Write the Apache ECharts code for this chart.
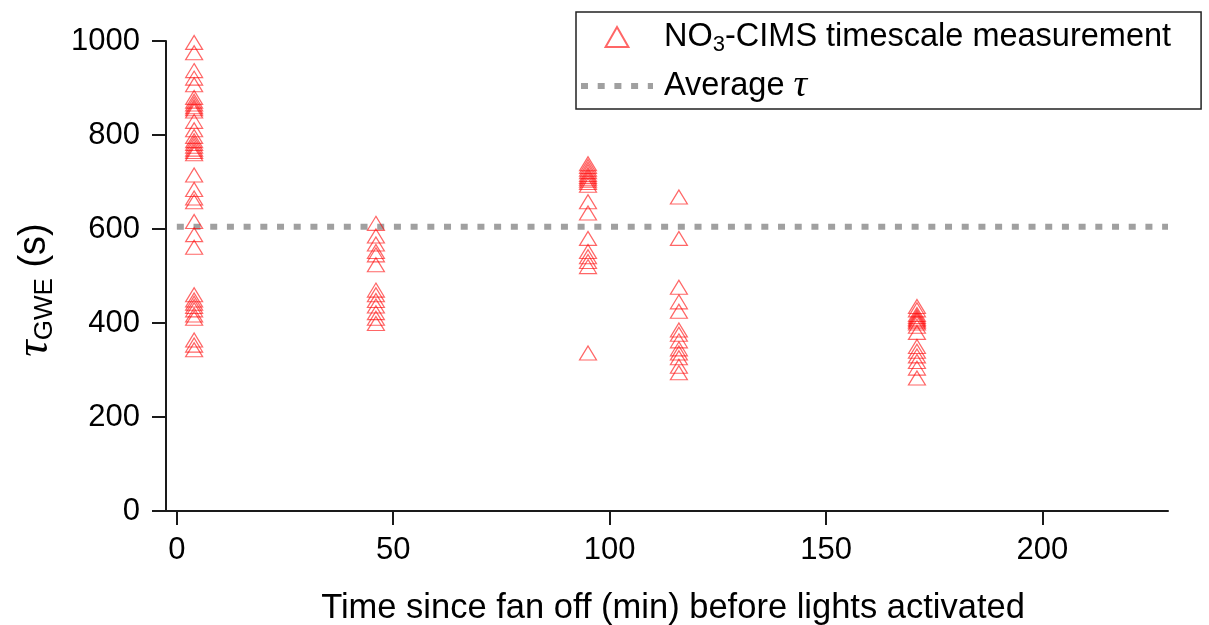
<!DOCTYPE html>
<html><head><meta charset="utf-8">
<script src="https://cdn.jsdelivr.net/npm/echarts@6/dist/echarts.min.js"></script>
<style>html,body{margin:0;padding:0;background:#fff}#c{width:1209px;height:625px}</style>
</head><body><div id="c"></div>
<script>
// ---- data ----
const xTicks = [0, 50, 100, 150, 200];
const yTicks = [0, 200, 400, 600, 800, 1000];
const fanOffTimes = [4, 46, 95, 116, 171];
const tauAt4 = [997, 975, 937, 921, 907, 880, 872, 866, 860, 856, 851, 829, 811, 797, 788, 782, 776, 770, 765, 760, 715, 684, 666, 658, 616, 588, 561, 460, 449, 442, 435, 428, 417, 410, 364, 353, 343];
const tauAt46 = [612, 585, 568, 552, 545, 524, 470, 460, 448, 436, 422, 410, 399];
const tauAt95 = [739, 733, 727, 722, 716, 712, 708, 704, 699, 693, 658, 634, 580, 552, 541, 531, 520, 336];
const tauAt116 = [668, 580, 476, 445, 425, 385, 376, 362, 345, 336, 326, 308, 294];
const tauAt171 = [435, 428, 418, 414, 410, 407, 404, 400, 393, 380, 350, 340, 330, 318, 304, 283];
const avgTau = 605;
const avgLineX = [0, 229];

const seriesName1 = 'NO3-CIMS timescale measurement';
const seriesName2 = 'Average \u03C4';

// ---- build ----
const groups = [tauAt4, tauAt46, tauAt95, tauAt116, tauAt171];
const scatterData = [];
groups.forEach((arr, i) => arr.forEach(v => scatterData.push([fanOffTimes[i], v])));
const avgData = avgLineX.map(x => [x, avgTau]);

const FONT = 'Liberation Sans, Arial, sans-serif';
const TRI = 'path://M8,0L16,14L0,14Z';
const axisColor = '#1a1a1a';
const avgLineStyle = {color: '#a0a0a0', width: 6, type: [7, 9.7]};

const chart = echarts.init(document.getElementById('c'), null, {renderer: 'canvas'});
chart.setOption({
  animation: false,
  backgroundColor: '#fff',
  grid: {left: 166, right: 41, top: 41, bottom: 114, containLabel: false, outerBoundsMode: 'none'},
  xAxis: {
    type: 'value', min: -2.5, max: 229,
    axisLine: {show: true, onZero: false, lineStyle: {color: axisColor, width: 2}},
    axisTick: {show: true, inside: false, length: 14, customValues: xTicks, lineStyle: {color: axisColor, width: 2}},
    axisLabel: {customValues: xTicks, margin: 24, fontSize: 31, color: '#000', fontFamily: FONT},
    splitLine: {show: false},
    name: 'Time since fan off (min) before lights activated',
    nameLocation: 'middle', nameGap: 80,
    nameTextStyle: {fontSize: 34.5, color: '#000', fontFamily: FONT, padding: [0, 0, 0, 12]}
  },
  yAxis: {
    type: 'value', min: 0, max: 1000, interval: 200,
    axisLine: {show: true, onZero: false, lineStyle: {color: axisColor, width: 2}},
    axisTick: {show: true, inside: false, length: 14, lineStyle: {color: axisColor, width: 2}},
    axisLabel: {margin: 26, fontSize: 31, color: '#000', fontFamily: FONT, formatter: v => String(v)},
    splitLine: {show: false},
    name: '{t|\u03C4}{s|GWE} (s)',
    nameLocation: 'middle', nameGap: 108,
    nameTextStyle: {
      fontSize: 38, color: '#000', fontFamily: FONT, lineHeight: 46, padding: [0, 28, 0, 0],
      rich: {
        t: {fontSize: 46, fontFamily: 'Liberation Serif, serif', fontStyle: 'italic', color: '#000', lineHeight: 46},
        s: {fontSize: 26, fontFamily: FONT, color: '#000', verticalAlign: 'bottom', lineHeight: 26}
      }
    }
  },
  legend: {
    orient: 'vertical', left: 576, top: 12,
    padding: [6, 30, 4, 2], itemGap: 11, itemWidth: 72, itemHeight: 20,
    symbolKeepAspect: true,
    borderColor: '#222', borderWidth: 1.5, backgroundColor: '#fff',
    textStyle: {
      fontFamily: FONT, fontSize: 32.5, color: '#000', lineHeight: 38, padding: [0, 0, 0, 6],
      rich: {
        sub: {fontSize: 22, fontFamily: FONT, color: '#000', verticalAlign: 'bottom', lineHeight: 25},
        tau: {fontSize: 38, fontFamily: 'Liberation Serif, serif', fontStyle: 'italic', color: '#000', lineHeight: 38}
      }
    },
    formatter: function (name) {
      if (name === seriesName1) return 'NO{sub|3}-CIMS timescale measurement';
      return 'Average {tau|\u03C4}';
    },
    data: [
      {name: seriesName1, icon: TRI},
      {name: seriesName2, lineStyle: avgLineStyle, itemStyle: {color: 'rgba(0,0,0,0)', borderWidth: 0, opacity: 0}}
    ]
  },
  series: [
    {
      name: seriesName2, type: 'line', data: avgData, symbol: 'none', z: 1,
      lineStyle: avgLineStyle, itemStyle: {color: '#a0a0a0'},
      emphasis: {disabled: true}, silent: true
    },
    {
      name: seriesName1, type: 'scatter', data: scatterData, z: 3,
      symbol: TRI, symbolSize: [17, 14], symbolKeepAspect: false,
      itemStyle: {color: 'rgba(255,255,255,0)', borderColor: 'rgba(255,0,0,0.75)', borderWidth: 1.2},
      emphasis: {disabled: true}, silent: true
    }
  ]
});
</script></body></html>
